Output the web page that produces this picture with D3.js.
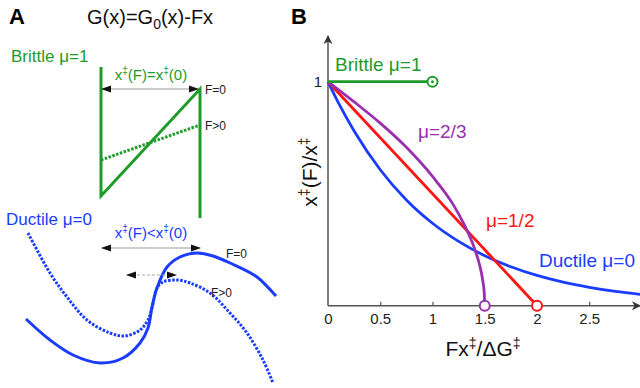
<!DOCTYPE html>
<html>
<head>
<meta charset="utf-8">
<script src="https://cdn.jsdelivr.net/npm/d3@7"></script>
<style>
html,body{margin:0;padding:0;background:#fff;}
svg{display:block;font-family:"Liberation Sans",Arial,Helvetica,sans-serif;}
</style>
</head>
<body>
<svg id="chart" width="640" height="388"></svg>
<script>
// ---------- Panel B data ----------
const xTicks = [0, 0.5, 1, 1.5, 2, 2.5];
const xTickLabels = ["0", "0.5", "1", "1.5", "2", "2.5"];
const yTicks = [1];
const yTickLabels = ["1"];
const brittleB = [[0, 1], [1, 1]];
const mu23B = [[0,1],[0.25,0.91],[0.5,0.815],[0.75,0.707],[1,0.577],[1.2,0.45],[1.3,0.365],[1.4,0.258],[1.45,0.183],[1.48,0.115],[1.495,0.058],[1.5,0]];
const mu12B = [[0, 1], [2, 0]];
const ductileB = [[0,1],[0.1,0.905],[0.25,0.78],[0.5,0.607],[0.75,0.472],[1,0.368],[1.25,0.287],[1.5,0.223],[1.75,0.174],[2,0.135],[2.25,0.105],[2.5,0.082],[2.75,0.064],[3,0.05]];
const endCircles = [
  {x: 1, y: 1, c: "green", dot: true},
  {x: 1.5, y: 0, c: "purple", dot: false},
  {x: 2, y: 0, c: "red", dot: false}
];

// ---------- Panel A data (schematic units) ----------
const brittleSolidA = [[76, 323], [76, 194], [175, 301], [175, 172]];
const brittleDottedA = [[76, 230], [175, 265]];
const brittleArrowA = [[77, 301], [173, 301]];
const ductileSolidA = [[1,71],[25,50],[48,35],[75,27],[98,32],[115,47],[123,62],[127,83],[132,102],[142,123],[155,133],[172,137],[188,134],[205,127],[232,113],[251,94]];
const ductileDottedA = [[3,157],[25,117],[42,93],[62,70],[85,57],[100,54],[115,60],[123,70],[127,82],[132,102],[138,108],[152,110],[165,107],[185,97],[205,77],[222,57],[238,30],[248,7]];
const ductileArrowA = [[77, 142], [175, 142]];
const ductileDashArrowA = [[102, 115], [151, 115]];

const COL = {green: "#1f9b2a", blue: "#1a3cff", red: "#ff1515", purple: "#9a2fb0", gray: "#555"};

const svg = d3.select("#chart");

// markers
const defs = svg.append("defs");
function marker(id, orient) {
  defs.append("marker").attr("id", id).attr("viewBox", "0 0 10 10")
    .attr("refX", 9).attr("refY", 5).attr("markerWidth", 10).attr("markerHeight", 10)
    .attr("markerUnits", "userSpaceOnUse").attr("orient", orient)
    .append("path").attr("d", "M0,1.5 L10,5 L0,8.5 Z").attr("fill", "#111");
}
marker("ah", "auto-start-reverse");
defs.append("marker").attr("id", "axh").attr("viewBox", "0 0 10 10")
  .attr("refX", 9).attr("refY", 5).attr("markerWidth", 9).attr("markerHeight", 11)
  .attr("markerUnits", "userSpaceOnUse").attr("orient", "auto")
  .append("path").attr("d", "M0,0 L10,5 L0,10 L3,5 Z").attr("fill", "#333");

// ================= Panel A =================
const xA = d3.scaleLinear().domain([0, 250]).range([25, 275]);
const yA = d3.scaleLinear().domain([0, 350]).range([390, 40]);
const lineA = d3.line().x(d => xA(d[0])).y(d => yA(d[1]));
const smoothA = d3.line().x(d => xA(d[0])).y(d => yA(d[1])).curve(d3.curveCatmullRom.alpha(0.5));

svg.append("text").attr("x", 9).attr("y", 24).attr("font-size", 22).attr("font-weight", "bold").text("A");
const title = svg.append("text").attr("x", 87).attr("y", 24).attr("font-size", 20).attr("fill", "#111");
title.append("tspan").text("G(x)=G");
title.append("tspan").attr("font-size", 14).attr("dy", 5).text("0");
title.append("tspan").attr("dy", -5).text("(x)-Fx");

svg.append("text").attr("x", 11).attr("y", 62).attr("font-size", 17).attr("fill", COL.green).text("Brittle \u03bc=1");
svg.append("path").attr("d", lineA(brittleSolidA)).attr("fill", "none").attr("stroke", COL.green)
  .attr("stroke-width", 3).attr("stroke-linejoin", "miter");
svg.append("path").attr("d", lineA(brittleDottedA)).attr("fill", "none").attr("stroke", COL.green)
  .attr("stroke-width", 3).attr("stroke-dasharray", "2.5,1.5");
svg.append("path").attr("d", lineA(brittleArrowA)).attr("stroke", "#999").attr("stroke-width", 1.2)
  .attr("marker-start", "url(#ah)").attr("marker-end", "url(#ah)");
const bl = svg.append("text").attr("x", 151).attr("y", 80).attr("text-anchor", "middle").attr("font-size", 15).attr("fill", COL.green);
bl.append("tspan").text("x");
bl.append("tspan").attr("font-size", 10).attr("dy", -6).text("\u2021");
bl.append("tspan").attr("dy", 6).text("(F)=x");
bl.append("tspan").attr("font-size", 10).attr("dy", -6).text("\u2021");
bl.append("tspan").attr("dy", 6).text("(0)");
svg.append("text").attr("x", 205).attr("y", 94).attr("font-size", 12).attr("fill", "#222").text("F=0");
svg.append("text").attr("x", 205).attr("y", 130).attr("font-size", 12).attr("fill", "#222").text("F>0");

svg.append("text").attr("x", 6).attr("y", 225).attr("font-size", 17).attr("fill", COL.blue).text("Ductile \u03bc=0");
svg.append("path").attr("d", smoothA(ductileDottedA)).attr("fill", "none").attr("stroke", COL.blue)
  .attr("stroke-width", 3).attr("stroke-dasharray", "2.5,1.5");
svg.append("path").attr("d", smoothA(ductileSolidA)).attr("fill", "none").attr("stroke", COL.blue)
  .attr("stroke-width", 3);
svg.append("path").attr("d", lineA(ductileArrowA)).attr("stroke", "#999").attr("stroke-width", 1.2)
  .attr("marker-start", "url(#ah)").attr("marker-end", "url(#ah)");
svg.append("path").attr("d", lineA(ductileDashArrowA)).attr("stroke", "#aaa").attr("stroke-width", 1.2)
  .attr("stroke-dasharray", "3,2").attr("marker-start", "url(#ah)").attr("marker-end", "url(#ah)");
const dl = svg.append("text").attr("x", 151).attr("y", 238).attr("text-anchor", "middle").attr("font-size", 15).attr("fill", COL.blue);
dl.append("tspan").text("x");
dl.append("tspan").attr("font-size", 10).attr("dy", -6).text("\u2021");
dl.append("tspan").attr("dy", 6).text("(F)<x");
dl.append("tspan").attr("font-size", 10).attr("dy", -6).text("\u2021");
dl.append("tspan").attr("dy", 6).text("(0)");
svg.append("text").attr("x", 226).attr("y", 258).attr("font-size", 12).attr("fill", "#222").text("F=0");
svg.append("text").attr("x", 211).attr("y", 297).attr("font-size", 12).attr("fill", "#222").text("F>0");

// ================= Panel B =================
const xB = d3.scaleLinear().domain([0, 3]).range([328, 641.5]);
const yB = d3.scaleLinear().domain([0, 1]).range([305.7, 81.7]);

svg.append("text").attr("x", 291).attr("y", 24).attr("font-size", 22).attr("font-weight", "bold").text("B");

// axes
const xAxis = d3.axisBottom(xB).tickValues(xTicks).tickSize(-4).tickPadding(8)
  .tickFormat((d, i) => xTickLabels[i]);
const gx = svg.append("g").attr("transform", `translate(0,${yB(0)})`).call(xAxis);
gx.select(".domain").remove();
gx.selectAll(".tick line").attr("stroke", COL.gray).attr("stroke-width", 1.2);
gx.selectAll(".tick text").attr("font-size", 15).attr("fill", "#222").attr("font-family", "Liberation Sans, Arial, sans-serif");
gx.selectAll(".tick").filter(d => d === 0).select("line").remove();

const yAxis = d3.axisLeft(yB).tickValues(yTicks).tickSize(0).tickPadding(6)
  .tickFormat((d, i) => yTickLabels[i]);
const gy = svg.append("g").attr("transform", `translate(${xB(0)},0)`).call(yAxis);
gy.select(".domain").remove();
gy.selectAll(".tick text").attr("font-size", 15).attr("fill", "#222").attr("font-family", "Liberation Sans, Arial, sans-serif");

svg.append("line").attr("x1", xB(0)).attr("y1", yB(0)).attr("x2", 640).attr("y2", yB(0))
  .attr("stroke", COL.gray).attr("stroke-width", 1.5).attr("marker-end", "url(#axh)");
svg.append("line").attr("x1", xB(0)).attr("y1", yB(0)).attr("x2", xB(0)).attr("y2", 36)
  .attr("stroke", COL.gray).attr("stroke-width", 1.5).attr("marker-end", "url(#axh)");

// axis titles
const xt = svg.append("text").attr("x", 483).attr("y", 356).attr("text-anchor", "middle").attr("font-size", 21).attr("fill", "#111");
xt.append("tspan").text("Fx");
xt.append("tspan").attr("font-size", 14).attr("dy", -8).text("\u2021");
xt.append("tspan").attr("dy", 8).text("/\u0394G");
xt.append("tspan").attr("font-size", 14).attr("dy", -8).text("\u2021");
const yt = svg.append("text").attr("transform", "translate(317,172) rotate(-90)").attr("text-anchor", "middle").attr("font-size", 21).attr("fill", "#111");
yt.append("tspan").text("x");
yt.append("tspan").attr("font-size", 14).attr("dy", -8).text("\u2021");
yt.append("tspan").attr("dy", 8).text("(F)/x");
yt.append("tspan").attr("font-size", 14).attr("dy", -8).text("\u2021");

// curves
const lineB = d3.line().x(d => xB(d[0])).y(d => yB(d[1]));
const smoothB = d3.line().x(d => xB(d[0])).y(d => yB(d[1])).curve(d3.curveMonotoneX);
const clip = defs.append("clipPath").attr("id", "clipB");
clip.append("rect").attr("x", 320).attr("y", 30).attr("width", 320).attr("height", 290);
const gB = svg.append("g").attr("clip-path", "url(#clipB)");
gB.append("path").attr("d", smoothB(ductileB)).attr("fill", "none").attr("stroke", COL.blue).attr("stroke-width", 2.8);
gB.append("path").attr("d", lineB(mu12B)).attr("fill", "none").attr("stroke", COL.red).attr("stroke-width", 2.8);
gB.append("path").attr("d", smoothB(mu23B)).attr("fill", "none").attr("stroke", COL.purple).attr("stroke-width", 2.8);
gB.append("path").attr("d", lineB(brittleB)).attr("fill", "none").attr("stroke", COL.green).attr("stroke-width", 2.8);

endCircles.forEach(c => {
  svg.append("circle").attr("cx", xB(c.x)).attr("cy", yB(c.y)).attr("r", 5)
    .attr("fill", "#fff").attr("stroke", COL[c.c]).attr("stroke-width", 2);
  if (c.dot) svg.append("circle").attr("cx", xB(c.x)).attr("cy", yB(c.y)).attr("r", 1.5).attr("fill", COL[c.c]);
});

// curve labels
svg.append("text").attr("x", 335).attr("y", 71).attr("font-size", 19).attr("fill", COL.green).text("Brittle \u03bc=1");
svg.append("text").attr("x", 418).attr("y", 138).attr("font-size", 19).attr("fill", COL.purple).text("\u03bc=2/3");
svg.append("text").attr("x", 486).attr("y", 227).attr("font-size", 19).attr("fill", COL.red).text("\u03bc=1/2");
svg.append("text").attr("x", 539).attr("y", 267).attr("font-size", 19).attr("fill", COL.blue).text("Ductile \u03bc=0");
</script>
</body>
</html>
